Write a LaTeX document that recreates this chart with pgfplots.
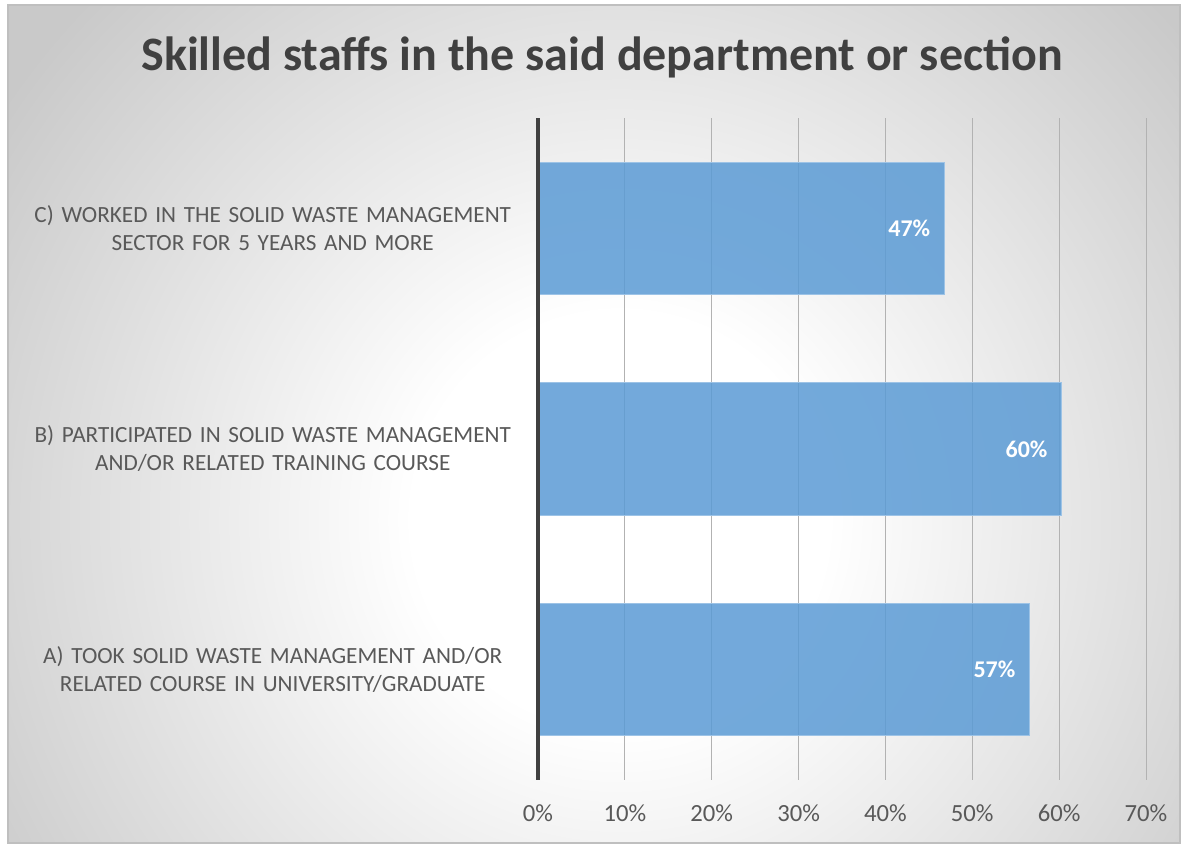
\documentclass[border=0pt]{standalone}
\usepackage{pgfplots}
\pgfplotsset{compat=1.18}
\usepackage{fontspec}
\setmainfont{Carlito}
\definecolor{barblue}{HTML}{5B9BD5}
\definecolor{baredge}{HTML}{9DC3E6}
\definecolor{ticktext}{HTML}{595959}
\definecolor{titletext}{HTML}{404040}
\definecolor{bgedge}{gray}{0.79}
\pgfdeclareradialshading{bgshade}{\pgfpoint{0bp}{0bp}}{color(0bp)=(white); color(7bp)=(white); color(25bp)=(bgedge); color(50bp)=(bgedge)}
\begin{document}
\begin{tikzpicture}[x=0.75pt,y=0.75pt]
\fill[white] (0,0) rectangle (1185,845);
\begin{scope}
\clip (8,2) rectangle (1180,840);
\fill[bgedge] (8,2) rectangle (1180,840);
\shade[shading=bgshade] (620,325) circle (740);
\end{scope}
\draw[black!25, line width=1pt] (8,2) rectangle (1180,840);
\node[font=\bfseries\fontsize{36}{42}\selectfont, text=titletext] at (602,788) {Skilled staffs in the said department or section};
\begin{axis}[
  at={(403.5pt,48.75pt)}, anchor=south west,
  width=456pt, height=496.5pt, scale only axis,
  clip=false,
  xbar, bar width=0.6,
  xmin=0, xmax=70, ymin=-0.5, ymax=2.5,
  ytick={0,1,2},
  yticklabels={{A) TOOK SOLID WASTE MANAGEMENT AND/OR\\RELATED COURSE IN UNIVERSITY/GRADUATE},
               {B) PARTICIPATED IN SOLID WASTE MANAGEMENT\\AND/OR RELATED TRAINING COURSE},
               {C) WORKED IN THE SOLID WASTE MANAGEMENT\\SECTOR FOR 5 YEARS AND MORE}},
  yticklabel style={text width=367.5pt, align=center, inner sep=0pt, xshift=-15pt,
    font=\fontsize{17.4}{21}\selectfont, text=ticktext},
  xtick={0,10,...,70},
  xticklabel={\pgfmathprintnumber{\tick}\%},
  /pgf/number format/assume math mode=true,
  xticklabel style={inner sep=0pt, yshift=-18pt, font=\fontsize{18.5}{21}\selectfont, text=ticktext},
  major tick length=0pt,
  axis x line*=bottom, axis y line*=left,
  x axis line style={draw=none},
  y axis line style={draw=none},
  xmajorgrids, grid style={black!30, line width=0.75pt},
  point meta=x,
  nodes near coords={\pgfmathprintnumber[fixed,precision=0]{\pgfplotspointmeta}\%},
  every node near coord/.append style={anchor=east, xshift=-7pt, text=white, fill opacity=1, text opacity=1,
    font=\bfseries\fontsize{18}{20}\selectfont},
]
\addplot[fill=barblue, fill opacity=0.85, draw=baredge, line width=0.75pt]
  coordinates {(56.6,0) (60.3,1) (46.8,2)};
\draw[black!75, line width=3pt] (axis cs:0,-0.5) -- (axis cs:0,2.5);
\end{axis}
\end{tikzpicture}
\end{document}
